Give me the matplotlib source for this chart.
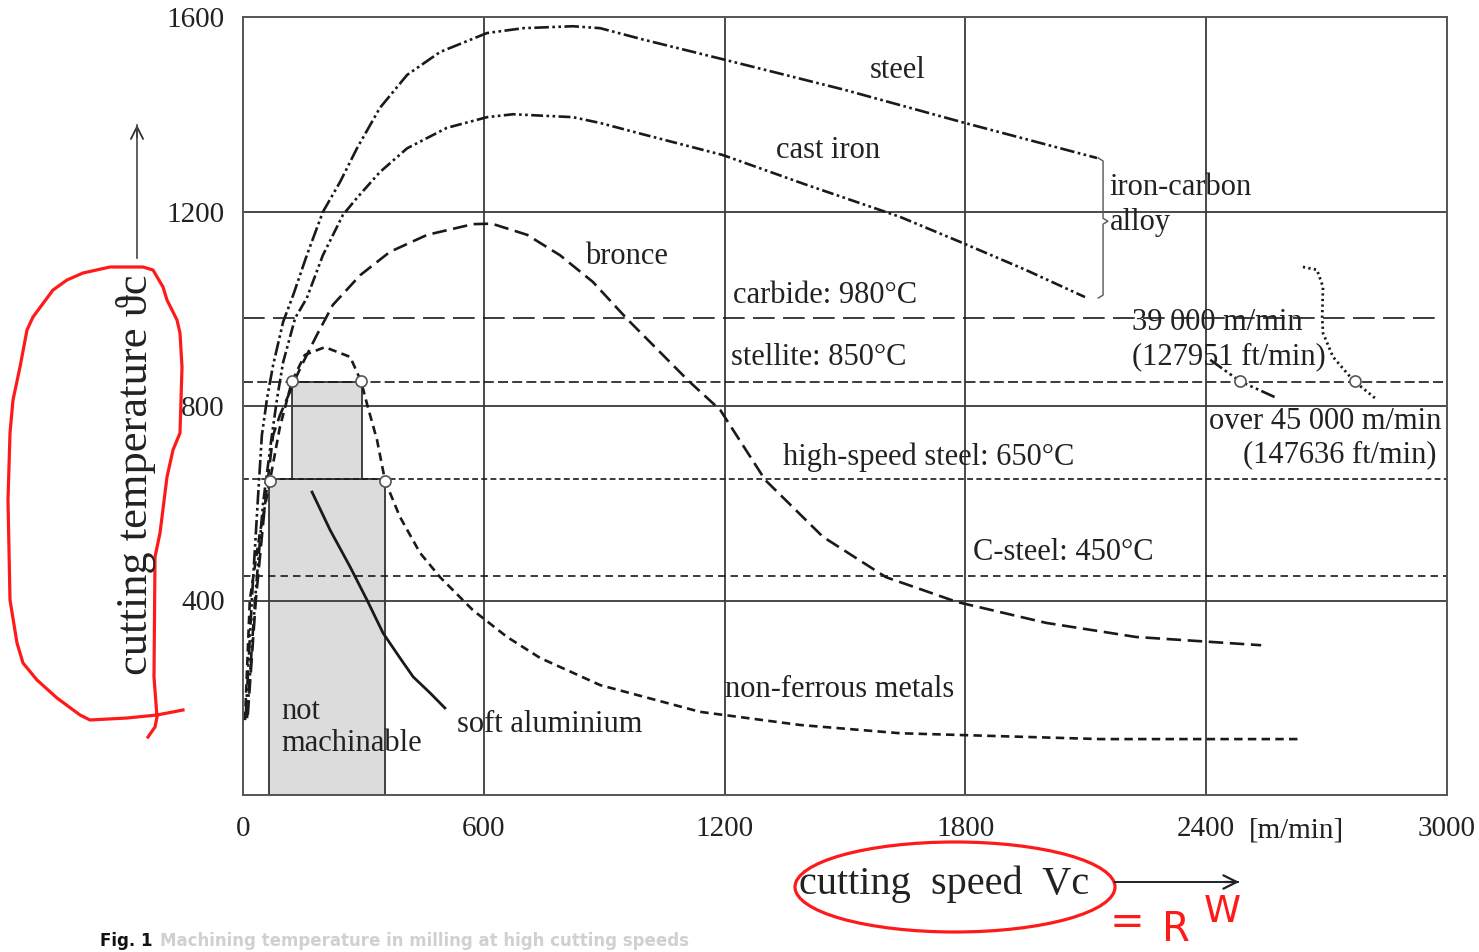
import numpy as np
import matplotlib.pyplot as plt
from matplotlib.patches import Rectangle, Ellipse

plt.rcParams["font.family"] = ["Liberation Serif", "DejaVu Serif"]

# Data (cutting speed m/min, cutting temperature degC)
steel_v = [7, 22, 37, 47, 60, 75, 100, 125, 159, 199, 242, 284, 341, 409, 491, 608, 698, 822,
           890, 1000, 1196, 1500, 1799, 2128]
steel_t = [165, 401, 607, 740, 816, 884, 973, 1028, 1110, 1199, 1261, 1330, 1413, 1481, 1528, 1567, 1577, 1581,
           1577, 1553, 1513, 1450, 1382, 1310]

cast_v = [10, 30, 50, 72, 85, 100, 130, 159, 199, 249, 284, 341, 409, 508, 608, 673, 822,
          890, 1000, 1196, 1400, 1637, 1794, 1950, 2098]
cast_t = [158, 401, 600, 740, 816, 890, 981, 1022, 1110, 1193, 1228, 1281, 1330, 1372, 1394, 1400, 1394,
          1382, 1358, 1316, 1256, 1189, 1135, 1080, 1024]

bronze_v = [12, 32, 55, 75, 92, 135, 150, 184, 224, 292, 366, 459, 573, 620, 708, 790, 872, 957,
            1111, 1189, 1301, 1445, 1602, 1779, 2001, 2225, 2537]
bronze_t = [165, 401, 600, 740, 781, 864, 890, 946, 1008, 1069, 1117, 1152, 1174, 1175, 1152, 1110, 1055, 979,
            851, 792, 648, 531, 448, 397, 354, 325, 308]

nonfe_v = [5, 17, 42, 67, 92, 122, 154, 204, 267, 294, 311, 334, 354,
           391, 441, 491, 573, 658, 740, 890, 1139, 1388, 1637, 2136, 2634]
nonfe_t = [154, 401, 539, 646, 757, 851, 905, 921, 901, 851, 798, 730, 646,
           572, 498, 448, 380, 325, 282, 226, 171, 144, 127, 115, 115]

alu_v = [172, 217, 267, 309, 349, 391, 424, 466, 503]
alu_t = [623, 545, 469, 401, 333, 282, 243, 210, 179]

# record speeds on the right
rec1_v = [2410, 2484, 2577]
rec1_t = [895, 851, 816]
rec2_v = [2641, 2676, 2691, 2689, 2691, 2716, 2766, 2821]
rec2_t = [1086, 1080, 1045, 983, 950, 901, 853, 816]

# tool material limits
limit_names = ["carbide", "stellite", "high-speed steel", "C-steel"]
limit_temps = [980, 850, 650, 450]

# not machinable region
box_low = [65, 354, 650]
box_high = [122, 296, 850]
circle_v = [122, 294, 67, 354, 2484, 2771]
circle_t = [851, 851, 646, 646, 851, 851]

x_ticks = [0, 600, 1200, 1800, 2400, 3000]
y_ticks = [400, 800, 1200, 1600]

# red hand-drawn loop round the y title (pixels)
loop_px = [(148, 737), (155, 727), (157, 717), (154, 677), (155, 557), (160, 533), (167, 477),
           (173, 450), (180, 433), (182, 367), (180, 333), (177, 320), (167, 300), (163, 287),
           (153, 270), (143, 267), (110, 267), (83, 273), (67, 280), (53, 290), (33, 317),
           (27, 330), (20, 367), (13, 400), (10, 433), (8, 500), (10, 600), (17, 643),
           (23, 663), (37, 680), (57, 698), (80, 715), (90, 720), (127, 718), (157, 715), (183, 710)]

W, H = 1479, 952


def fx(px):
    return px / W


def fy(py):
    return 1 - py / H


fig = plt.figure(figsize=(14.79, 9.52), dpi=100)
ax = fig.add_axes([fx(243), fy(795), fx(1447) - fx(243), fy(17) - fy(795)])
ax.set_xlim(0, 3000)
ax.set_ylim(0, 1600)

ink = "#1a1a1a"
grid_c = "#3a3a3a"
tc = "#222222"

for v in x_ticks[1:-1]:
    ax.axvline(v, color=grid_c, lw=1.3, zorder=0.5)
for t in y_ticks[:-1]:
    ax.axhline(t, color=grid_c, lw=1.3, zorder=0.5)
for s in ax.spines.values():
    s.set_color("#555555")
    s.set_linewidth(1.4)

ax.set_xticks(x_ticks)
ax.set_yticks(y_ticks)
ax.set_xticklabels([str(v) for v in x_ticks], fontsize=21, color=tc)
ax.set_yticklabels([str(t) for t in y_ticks], fontsize=21, color=tc)
ax.tick_params(length=0)
ax.tick_params(axis="x", pad=15)
ax.tick_params(axis="y", pad=13)
ax.text(2626, -72, "[m/min]", fontsize=21, color=tc, ha="center", va="center", clip_on=False)

# grey boxes
ax.add_patch(Rectangle((box_low[0], 0), box_low[1] - box_low[0], box_low[2],
                       fc="#dcdcdc", ec="#333333", lw=1.3, zorder=0.3))
ax.add_patch(Rectangle((box_high[0], box_low[2]), box_high[1] - box_high[0],
                       box_high[2] - box_low[2], fc="#dcdcdc", ec="#333333", lw=1.3, zorder=0.3))

# limit lines
limit_styles = [(0, (13, 5)), (0, (6, 2.5)), (0, (3.5, 2)), (0, (4.5, 3))]
limit_ends = [2980, 3000, 3000, 3000]
for t, ls, e in zip(limit_temps, limit_styles, limit_ends):
    ax.plot([0, e], [t, t], color=ink, lw=1.2, ls=ls, zorder=2)

# curves
dd = (0, (5.5, 1.3, 1, 1.3, 1, 1.3))
ax.plot(steel_v, steel_t, color=ink, lw=1.9, ls=dd, zorder=3)
ax.plot(cast_v, cast_t, color=ink, lw=1.9, ls=(0, (4.5, 1.3, 1, 1.3, 1, 1.3)), zorder=3)
ax.plot(bronze_v, bronze_t, color=ink, lw=1.9, ls=(0, (5.5, 2.5)), zorder=3)
ax.plot(nonfe_v, nonfe_t, color=ink, lw=1.9, ls=(0, (3.2, 2)), zorder=3)
ax.plot(alu_v, alu_t, color=ink, lw=2.0, zorder=3)
ax.plot(rec1_v, rec1_t, color=ink, lw=1.9, ls=dd, zorder=3)
ax.plot(rec2_v, rec2_t, color=ink, lw=2.0, ls=(0, (0.8, 1.2)), zorder=3)
ax.plot(circle_v, circle_t, "o", ms=8, mfc="white", mec="#555555", mew=1.2, zorder=4)

# bracket for iron-carbon alloy
bx = 2143
ax.plot([bx - 12, bx, bx, bx + 12, bx, bx, bx - 12],
        [1310, 1304, 1186, 1180, 1174, 1028, 1022], color="#555555", lw=1.0, zorder=3)

fs = 22
labels = [
    (1632, 1491, "steel", "center"),
    (1458, 1326, "cast iron", "center"),
    (955, 1108, "bronce", "center"),
    (2160, 1250, "iron-carbon", "left"),
    (2160, 1178, "alloy", "left"),
    (1221, 1028, "carbide: 980°C", "left"),
    (1216, 899, "stellite: 850°C", "left"),
    (1346, 695, "high-speed steel: 650°C", "left"),
    (1819, 498, "C-steel: 450°C", "left"),
    (1201, 216, "non-ferrous metals", "left"),
    (533, 146, "soft aluminium", "left"),
    (95, 171, "not", "left"),
    (95, 105, "machinable", "left"),
    (2215, 971, "39 000 m/min", "left"),
    (2215, 901, "(127951 ft/min)", "left"),
    (2985, 769, "over 45 000 m/min", "right"),
    (2973, 699, "(147636 ft/min)", "right"),
]
for x, y, s, ha in labels:
    ax.text(x, y, s, fontsize=fs, color=tc, ha=ha, va="center")

# axis titles with arrows
fig.text(fx(136), fy(475), "cutting temperature ϑc", fontsize=32, color=tc,
         rotation=90, ha="center", va="center")
fig.text(fx(944), fy(884), "cutting  speed  Vc", fontsize=29, color=tc,
         ha="center", va="center")
fig.add_artist(plt.Line2D([fx(137), fx(137)], [fy(258), fy(125)], color="#444444", lw=1.2))
fig.add_artist(plt.Line2D([fx(1115), fx(1238)], [fy(882), fy(882)], color="#222222", lw=1.4))
ax.annotate("", xy=(fx(137), fy(122)), xytext=(fx(137), fy(140)), xycoords="figure fraction",
            arrowprops=dict(arrowstyle="->", color="#333333", lw=1.3, mutation_scale=22))
ax.annotate("", xy=(fx(1242), fy(882)), xytext=(fx(1222), fy(882)), xycoords="figure fraction",
            arrowprops=dict(arrowstyle="->", color="#222222", lw=1.6, mutation_scale=24))

# red hand-drawn marks
red = "#ff1a1a"
fig.add_artist(plt.Line2D([fx(p[0]) for p in loop_px], [fy(p[1]) for p in loop_px],
                          color=red, lw=2.3, solid_joinstyle="round"))
fig.add_artist(Ellipse((fx(955), fy(887)), fx(320), fy(842) - fy(932),
                       fc="none", ec=red, lw=2.3, transform=fig.transFigure))
fig.text(fx(1127), fy(922), "=", fontsize=30, color=red, ha="center", va="center",
         family="DejaVu Sans")
fig.text(fx(1176), fy(930), "R", fontsize=29, color=red, ha="center", va="center",
         family="DejaVu Sans")
fig.text(fx(1222), fy(912), "W", fontsize=27, color=red, ha="center", va="center",
         family="DejaVu Sans")

# caption at the bottom edge
fig.text(fx(100), fy(950), "Fig. 1", fontsize=12, weight="bold", color="#111111",
         ha="left", va="bottom", family="DejaVu Sans")
fig.text(fx(160), fy(950), "Machining temperature in milling at high cutting speeds",
         fontsize=12, weight="bold", color="#d0d0d0", ha="left", va="bottom", family="DejaVu Sans")

plt.savefig("out.png", dpi=100)
